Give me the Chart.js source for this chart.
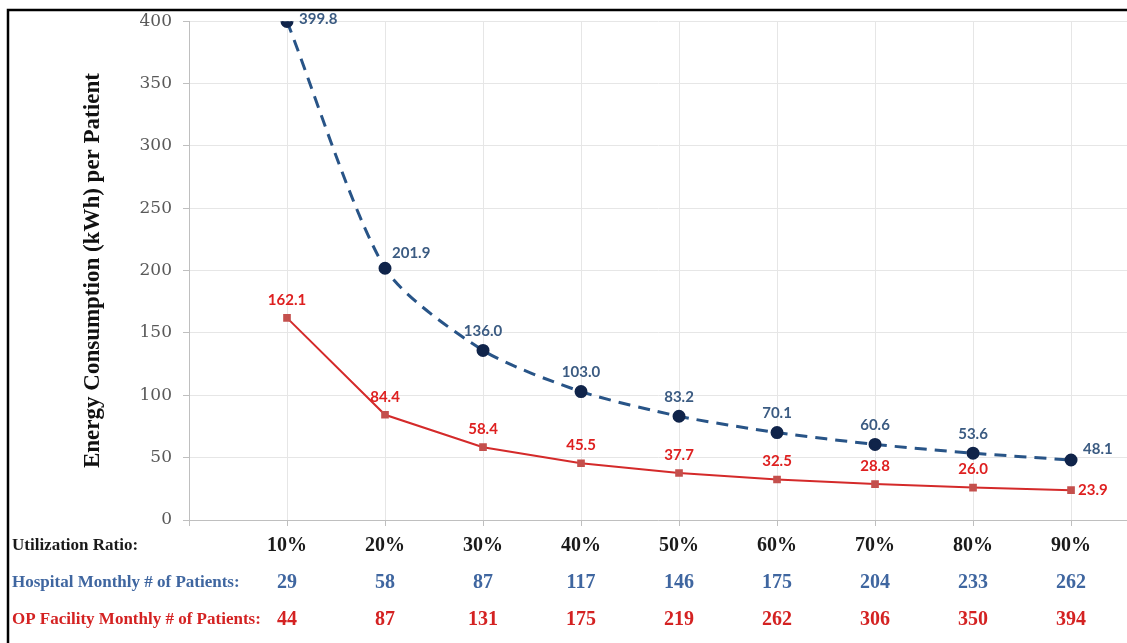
<!DOCTYPE html>
<html>
<head>
<meta charset="utf-8">
<script src="https://cdn.jsdelivr.net/npm/chart.js@4.4.1/dist/chart.umd.min.js"></script>
<style>
  body { margin: 0; background: #fff; }
  canvas { display: block; }
</style>
</head>
<body>
<canvas id="energyChart" width="1127" height="643"></canvas>
<script>
// utilization ratio (%) on the x axis
const utilization = [10, 20, 30, 40, 50, 60, 70, 80, 90];
const hospitalKwh = [399.8, 201.9, 136.0, 103.0, 83.2, 70.1, 60.6, 53.6, 48.1];
const opFacilityKwh = [162.1, 84.4, 58.4, 45.5, 37.7, 32.5, 28.8, 26.0, 23.9];
const hospitalPatients = [29, 58, 87, 117, 146, 175, 204, 233, 262];
const opFacilityPatients = [44, 87, 131, 175, 219, 262, 306, 350, 394];
const yTicks = [0, 50, 100, 150, 200, 250, 300, 350, 400];

const blueLine = '#285487';
const blueDot = '#10244a';
const blueText = '#3b5b82';
const redLine = '#d42a2a';
const redDot = '#c4504d';
const redText = '#de2020';
const serif = '"Liberation Serif", "DejaVu Serif", serif';
const sans = 'Lato, "Open Sans", sans-serif';

// labels + bottom table + frame
const extrasPlugin = {
    id: 'extras',
    afterDraw(chart) {
        const ctx = chart.ctx;
        const xs = chart.scales.x;
        const ys = chart.scales.y;
        ctx.save();

        // data labels
        ctx.font = 'bold 15px ' + sans;
        ctx.textBaseline = 'middle';
        const hosp = chart.getDatasetMeta(0).data;
        hosp.forEach((pt, i) => {
            const txt = hospitalKwh[i].toFixed(1);
            ctx.fillStyle = blueText;
            if (i === 0 || i === hosp.length - 1) {
                ctx.textAlign = 'left';
                ctx.fillText(txt, pt.x + 12, pt.y - (i === 0 ? 2 : 11));
            } else if (i === 1) {
                ctx.textAlign = 'left';
                ctx.fillText(txt, pt.x + 7, pt.y - 15);
            } else {
                ctx.textAlign = 'center';
                ctx.fillText(txt, pt.x, pt.y - 19);
            }
        });
        const op = chart.getDatasetMeta(1).data;
        op.forEach((pt, i) => {
            const txt = opFacilityKwh[i].toFixed(1);
            ctx.fillStyle = redText;
            if (i === op.length - 1) {
                ctx.textAlign = 'left';
                ctx.fillText(txt, pt.x + 7, pt.y);
            } else {
                ctx.textAlign = 'center';
                ctx.fillText(txt, pt.x, pt.y - 18);
            }
        });

        // y axis title
        ctx.save();
        ctx.translate(93, (ys.top + ys.bottom) / 2);
        ctx.rotate(-Math.PI / 2);
        ctx.textAlign = 'center';
        ctx.fillStyle = '#111';
        ctx.font = 'bold 23px ' + serif;
        ctx.fillText('Energy Consumption (kWh) per Patient', 0, 0);
        ctx.restore();

        // table under the x axis
        const rows = [
            { label: 'Utilization Ratio:', vals: utilization.map(v => v + '%'), color: '#1a1a1a', y: 546 },
            { label: 'Hospital Monthly # of Patients:', vals: hospitalPatients, color: '#3f66a0', y: 583 },
            { label: 'OP Facility Monthly # of Patients:', vals: opFacilityPatients, color: '#d42222', y: 620 }
        ];
        rows.forEach(r => {
            ctx.fillStyle = r.color;
            ctx.textAlign = 'left';
            ctx.font = 'bold 17px ' + serif;
            ctx.fillText(r.label, 12, r.y);
            ctx.textAlign = 'center';
            ctx.font = 'bold 20px ' + serif;
            r.vals.forEach((v, i) => {
                ctx.fillText(String(v), xs.getPixelForValue(utilization[i]), r.y);
            });
        });

        // frame lines
        ctx.strokeStyle = '#000';
        ctx.lineWidth = 2.5;
        ctx.beginPath();
        ctx.moveTo(8, 643);
        ctx.lineTo(8, 10);
        ctx.lineTo(1127, 10);
        ctx.stroke();
        ctx.restore();
    }
};

new Chart(document.getElementById('energyChart'), {
    type: 'line',
    data: {
        datasets: [
            {
                label: 'Hospital',
                data: utilization.map((u, i) => ({ x: u, y: hospitalKwh[i] })),
                borderColor: blueLine,
                borderWidth: 3,
                borderDash: [12, 8],
                tension: 0.25,
                pointStyle: 'circle',
                pointRadius: 5,
                pointBackgroundColor: blueDot,
                pointBorderColor: blueDot
            },
            {
                label: 'OP Facility',
                data: utilization.map((u, i) => ({ x: u, y: opFacilityKwh[i] })),
                borderColor: redLine,
                borderWidth: 2,
                tension: 0,
                pointStyle: 'rect',
                pointRadius: 4,
                pointBackgroundColor: redDot,
                pointBorderColor: redDot
            }
        ]
    },
    options: {
        responsive: false,
        animation: false,
        layout: { autoPadding: false, padding: { top: 21, left: 0, right: 0, bottom: 0 } },
        plugins: {
            legend: { display: false },
            tooltip: { enabled: false }
        },
        scales: {
            x: {
                type: 'linear',
                min: 0,
                max: 95.71,
                afterBuildTicks: s => { s.ticks = [0].concat(utilization).map(v => ({ value: v })); },
                afterFit: s => { s.height = 123; },
                ticks: { display: false },
                grid: { color: '#e6e6e6', tickLength: 6, tickColor: '#bfbfbf' },
                border: { color: '#bfbfbf', width: 1 }
            },
            y: {
                min: 0,
                max: 400,
                afterBuildTicks: s => { s.ticks = yTicks.map(v => ({ value: v })); },
                afterFit: s => { s.width = 189; },
                ticks: {
                    padding: 11,
                    color: '#595959',
                    font: { family: '"DejaVu Serif", serif', size: 17 }
                },
                grid: { color: '#e6e6e6', tickLength: 6, tickColor: '#bfbfbf' },
                border: { color: '#bfbfbf', width: 1 }
            }
        }
    },
    plugins: [extrasPlugin]
});
</script>
</body>
</html>
